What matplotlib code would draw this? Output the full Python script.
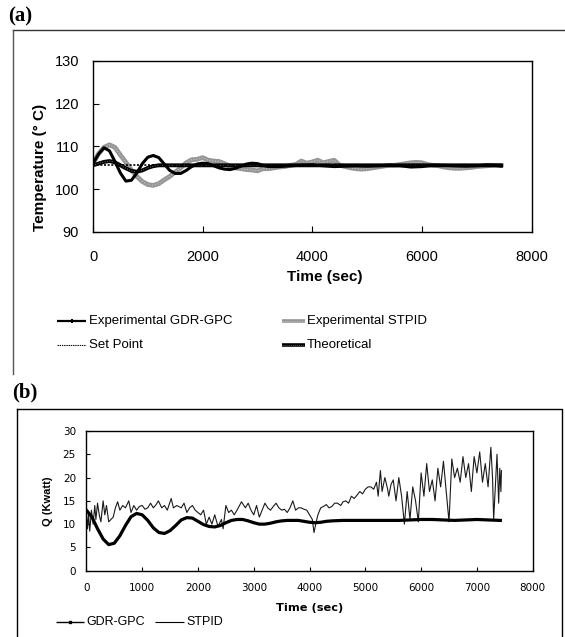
import numpy as np
import matplotlib
matplotlib.use("Agg")
import matplotlib.pyplot as plt
from matplotlib.lines import Line2D

# ---------------- Data: panel (a) temperature ----------------
gpc_t = [0, 100, 200, 300, 400, 500, 600, 700, 800, 900, 1000, 1100, 1200, 1300, 1400,
         1500, 1600, 1700, 1800, 1900, 2000, 2100, 2200, 2300, 2400, 2500, 2600, 2700,
         2800, 2900, 3000, 3100, 3200, 3400, 3600, 3800, 4000, 4200, 4400, 4600, 4800,
         5000, 5200, 5400, 5600, 5800, 6000, 6200, 6400, 6600, 6800, 7000, 7200, 7400, 7450]
gpc_temp = [106.0, 108.2, 109.7, 109.0, 106.5, 103.8, 101.9, 102.1, 103.8, 106.0, 107.5,
            107.9, 107.4, 105.9, 104.4, 103.7, 103.7, 104.4, 105.3, 105.9, 106.1, 106.0,
            105.5, 105.0, 104.7, 104.6, 104.9, 105.4, 105.9, 106.1, 106.0, 105.6, 105.3,
            105.3, 105.5, 105.6, 105.7, 105.5, 105.3, 105.4, 105.5, 105.4, 105.5, 105.6,
            105.5, 105.2, 105.3, 105.6, 105.6, 105.5, 105.4, 105.5, 105.7, 105.5, 105.4]

stpid_t = [0, 100, 200, 300, 400, 500, 600, 700, 800, 900, 1000, 1100, 1200, 1300, 1400,
           1500, 1600, 1700, 1800, 1900, 2000, 2100, 2200, 2300, 2400, 2500, 2600, 2700,
           2800, 2900, 3000, 3100, 3200, 3300, 3400, 3500, 3600, 3700, 3800, 3900, 4000,
           4100, 4200, 4300, 4400, 4500, 4600, 4700, 4800, 4900, 5000, 5100, 5200, 5300,
           5400, 5500, 5600, 5700, 5800, 5900, 6000, 6100, 6200, 6300, 6400, 6500, 6600,
           6700, 6800, 6900, 7000, 7100, 7200, 7300, 7400, 7450]
stpid_temp = [106.0, 108.3, 109.8, 110.4, 109.8, 108.0, 106.3, 104.5, 103.0, 101.8, 101.1,
              100.9, 101.3, 102.2, 103.0, 104.0, 105.0, 106.2, 106.9, 107.0, 107.4, 106.8,
              106.6, 106.5, 106.0, 105.4, 105.0, 104.8, 104.6, 104.5, 104.3, 104.8, 104.8,
              105.0, 105.2, 105.3, 105.6, 105.8, 106.6, 106.1, 106.4, 106.8, 106.2, 106.5,
              106.8, 105.6, 105.3, 105.0, 104.8, 104.7, 104.8, 105.0, 105.2, 105.4, 105.6,
              105.6, 105.8, 106.0, 106.2, 106.3, 106.2, 105.8, 105.6, 105.5, 105.2, 105.0,
              104.9, 104.9, 105.0, 105.1, 105.3, 105.4, 105.5, 105.6, 105.6, 105.5]

setpoint_t = [0, 7450]
setpoint_temp = [105.6, 105.6]

theo_t = [0, 100, 200, 300, 400, 500, 600, 700, 800, 900, 1000, 1100, 1200, 1400, 7450]
theo_temp = [105.6, 106.0, 106.4, 106.6, 106.3, 105.6, 104.9, 104.3, 104.1, 104.4, 105.0,
             105.4, 105.6, 105.6, 105.6]

# ---------------- Data: panel (b) heat duty ----------------
q_gpc_t = [0, 100, 200, 300, 400, 500, 600, 700, 800, 900, 1000, 1100, 1200, 1300, 1400,
           1500, 1600, 1700, 1800, 1900, 2000, 2100, 2200, 2300, 2400, 2500, 2600, 2700,
           2800, 2900, 3000, 3100, 3200, 3300, 3400, 3500, 3600, 3700, 3800, 3900, 4000,
           4100, 4200, 4300, 4400, 4600, 4800, 5000, 5200, 5400, 5600, 5800, 6000, 6200,
           6400, 6600, 6800, 7000, 7200, 7420]
q_gpc = [13.0, 11.5, 9.0, 6.8, 5.6, 5.9, 7.5, 9.7, 11.6, 12.3, 12.0, 10.8, 9.2, 8.2, 8.0,
         8.6, 9.7, 10.9, 11.4, 11.3, 10.6, 9.9, 9.5, 9.4, 9.7, 10.3, 10.8, 11.0, 11.0, 10.7,
         10.3, 10.0, 10.0, 10.2, 10.5, 10.7, 10.8, 10.8, 10.8, 10.6, 10.4, 10.3, 10.4, 10.6,
         10.7, 10.8, 10.8, 10.8, 10.8, 10.8, 10.8, 10.9, 11.0, 11.0, 10.9, 10.8, 10.9, 11.0,
         10.9, 10.8]

q_stpid_t = [0, 20, 40, 60, 90, 120, 150, 170, 200, 230, 260, 300, 330, 360, 400, 480, 520,
             560, 600, 650, 700, 760, 800, 850, 900, 950, 1000, 1050, 1100, 1150, 1200, 1250,
             1290, 1350, 1400, 1450, 1520, 1560, 1620, 1700, 1750, 1800, 1850, 1900, 1950,
             2000, 2050, 2100, 2150, 2200, 2250, 2300, 2360, 2420, 2450, 2500, 2550, 2600,
             2650, 2700, 2780, 2850, 2900, 2950, 3000, 3050, 3100, 3150, 3200, 3250, 3300,
             3350, 3400, 3450, 3500, 3550, 3600, 3650, 3700, 3750, 3800, 3850, 3900, 3950,
             4000, 4050, 4080, 4120, 4150, 4200, 4250, 4300, 4350, 4400, 4450, 4500, 4560,
             4600, 4650, 4700, 4750, 4800, 4850, 4900, 4950, 5000, 5050, 5100, 5150, 5200,
             5230, 5270, 5300, 5350, 5400, 5420, 5460, 5500, 5550, 5600, 5650, 5700, 5750,
             5800, 5850, 5900, 5950, 6000, 6050, 6100, 6150, 6200, 6250, 6300, 6350, 6400,
             6450, 6500, 6550, 6600, 6650, 6700, 6750, 6800, 6850, 6900, 6950, 7000, 7050,
             7100, 7150, 7200, 7250, 7280, 7300, 7330, 7360, 7390, 7410, 7430, 7440]
q_stpid = [13.0, 9.0, 12.0, 8.5, 13.0, 10.0, 14.0, 11.0, 14.5, 12.0, 10.5, 15.0, 12.0, 14.0,
           10.5, 11.5, 13.5, 14.8, 13.0, 14.0, 13.5, 15.0, 12.5, 14.0, 13.0, 13.8, 14.0, 13.2,
           13.5, 14.5, 13.5, 14.2, 15.0, 13.5, 14.0, 13.0, 15.5, 13.5, 14.0, 13.5, 14.5, 12.5,
           13.5, 14.0, 13.0, 12.5, 12.0, 13.0, 10.0, 11.5, 10.0, 12.0, 9.5, 11.0, 9.0, 14.0,
           12.5, 13.0, 12.0, 13.0, 14.8, 13.5, 14.5, 13.0, 12.0, 14.0, 11.5, 13.0, 14.5, 13.5,
           13.0, 13.8, 14.5, 13.5, 13.0, 13.2, 12.5, 13.5, 15.0, 13.0, 13.5, 13.5, 13.2, 13.0,
           12.0, 11.0, 8.2, 10.5, 12.0, 13.5, 13.8, 14.2, 13.5, 13.8, 14.5, 14.5, 14.0, 14.8,
           15.0, 14.5, 16.0, 15.5, 16.2, 17.0, 16.5, 17.5, 18.0, 18.0, 17.5, 19.0, 16.0, 21.5,
           17.0, 20.0, 17.5, 16.0, 18.5, 19.5, 15.0, 20.0, 16.0, 10.0, 17.0, 11.0, 18.0, 15.0,
           10.5, 21.0, 16.0, 23.0, 17.0, 19.5, 15.0, 22.0, 18.0, 23.5, 17.0, 10.5, 24.0, 20.0,
           22.0, 19.0, 24.5, 20.0, 23.0, 17.0, 24.5, 21.0, 25.5, 19.0, 23.0, 18.0, 26.5, 20.0,
           11.0, 18.0, 25.0, 14.5, 22.0, 17.0, 21.5]

a_yticks = [90, 100, 110, 120, 130]
a_xticks = [0, 2000, 4000, 6000, 8000]
b_yticks = [0, 5, 10, 15, 20, 25, 30]
b_xticks = [0, 1000, 2000, 3000, 4000, 5000, 6000, 7000, 8000]

# ---------------- Figure ----------------
W, H = 565, 637
fig = plt.figure(figsize=(W / 100, H / 100), dpi=100)
SANS = ["Liberation Sans", "DejaVu Sans"]
SERIF = ["Liberation Serif", "DejaVu Serif"]


def fx(px):
    return px / W


def fy(py):
    return 1 - py / H


# outer frames
fig.add_artist(Line2D([fx(13.3), 1.0], [fy(29.5), fy(29.5)], transform=fig.transFigure,
                      color="#333333", lw=1.0))
fig.add_artist(Line2D([fx(13.3), fx(13.3)], [fy(29.5), fy(374)], transform=fig.transFigure,
                      color="#555555", lw=1.0))
fig.add_artist(Line2D([fx(17.3), fx(561.7), fx(561.7)], [fy(409), fy(409), -0.01],
                      transform=fig.transFigure, color="black", lw=1.0))
fig.add_artist(Line2D([fx(17.3), fx(17.3)], [fy(409), -0.01], transform=fig.transFigure,
                      color="black", lw=1.0))

fig.text(fx(8), fy(16), "(a)", family=SERIF, fontweight="bold", fontsize=15,
         ha="left", va="center")
fig.text(fx(12), fy(392), "(b)", family=SERIF, fontweight="bold", fontsize=15,
         ha="left", va="center")

# ---------------- Panel (a) ----------------
axa = fig.add_axes([fx(93), fy(232), (531.5 - 93) / W, (232 - 61) / H])
gray = "#959595"
axa.plot(stpid_t, stpid_temp, color=gray, lw=3.4, zorder=2, solid_capstyle="butt")
axa.plot(stpid_t, stpid_temp, color="#c4c4c4", lw=0.8, ls=(0, (1, 1.5)), zorder=2.1)
axa.plot(theo_t, theo_temp, color="black", lw=2.8, zorder=3)
axa.plot(theo_t, theo_temp, color="#777777", lw=0.7, ls=(0, (1, 1.5)), zorder=3.1)
axa.plot(gpc_t, gpc_temp, color="black", lw=2.2, zorder=4)
axa.plot(setpoint_t, setpoint_temp, color="black", lw=1.2, ls=(0, (1.2, 1.0)), zorder=5)

axa.set_xlim(0, 8000)
axa.set_ylim(90, 130)
axa.set_xticks(a_xticks)
axa.set_yticks(a_yticks)
axa.tick_params(direction="in", length=4, width=0.8, labelsize=10.5)
axa.tick_params(axis="y", pad=10)
axa.tick_params(axis="x", pad=13)
for lab in axa.get_xticklabels() + axa.get_yticklabels():
    lab.set_family(SANS)
for s in axa.spines.values():
    s.set_linewidth(1.0)

fig.text(fx(325), fy(277), "Time (sec)", family=SANS, fontweight="bold", fontsize=11,
         ha="center", va="center")
fig.text(fx(39.6), fy(167), "Temperature (° C)", family=SANS, fontweight="bold",
         fontsize=11, ha="center", va="center", rotation=90)

# legend (a) drawn at fixed places
leg_rows = [321, 344.5]


def handle(x0, x1, y, **kw):
    fig.add_artist(Line2D([fx(x0), fx(x1)], [fy(y), fy(y)], transform=fig.transFigure,
                          solid_capstyle="butt", **kw))


handle(57, 86, leg_rows[0], color="black", lw=1.6)
fig.add_artist(Line2D([fx(71.5)], [fy(leg_rows[0])], transform=fig.transFigure,
                      marker="|", markersize=3.5, color="black", mew=1.4))
fig.text(fx(89), fy(leg_rows[0]), "Experimental GDR-GPC", family=SANS, fontsize=9.5,
         ha="left", va="center")
handle(57, 86, leg_rows[1], color="black", lw=0.8, ls=(0, (1.2, 0.8)))
fig.text(fx(89), fy(leg_rows[1]), "Set Point", family=SANS, fontsize=9.5,
         ha="left", va="center")
handle(282, 305, leg_rows[0], color=gray, lw=2.6)
handle(282, 305, leg_rows[0], color="#c4c4c4", lw=0.7, ls=(0, (1, 1.5)))
fig.text(fx(307), fy(leg_rows[0]), "Experimental STPID", family=SANS, fontsize=9.5,
         ha="left", va="center")
handle(282, 305, leg_rows[1], color="black", lw=2.6)
handle(282, 305, leg_rows[1], color="#777777", lw=0.6, ls=(0, (1, 1.5)))
fig.text(fx(307), fy(leg_rows[1]), "Theoretical", family=SANS, fontsize=9.5,
         ha="left", va="center")

# ---------------- Panel (b) ----------------
axb = fig.add_axes([fx(86.4), fy(570.7), (532.7 - 86.4) / W, (570.7 - 431) / H])
axb.plot(q_stpid_t, q_stpid, color="#1a1a1a", lw=0.8, zorder=2)
axb.plot(q_gpc_t, q_gpc, color="black", lw=2.3, zorder=3)
axb.set_xlim(0, 8000)
axb.set_ylim(0, 30)
axb.set_xticks(b_xticks)
axb.set_yticks(b_yticks)
axb.tick_params(direction="in", length=3, width=0.8, labelsize=7.5)
axb.tick_params(axis="y", pad=7.5)
axb.tick_params(axis="x", pad=8.5)
for lab in axb.get_xticklabels() + axb.get_yticklabels():
    lab.set_family(["DejaVu Sans"])
for s in axb.spines.values():
    s.set_linewidth(1.0)

fig.text(fx(310), fy(608), "Time (sec)", family=["DejaVu Sans"], fontweight="bold",
         fontsize=8.2, ha="center", va="center")
fig.text(fx(48), fy(501.7), "Q (Kwatt)", family=SANS, fontweight="bold", fontsize=8,
         ha="center", va="center", rotation=90)

yb = 622
handle(56, 83.5, yb, color="black", lw=1.0)
fig.add_artist(Line2D([fx(69.5)], [fy(yb)], transform=fig.transFigure, marker="s",
                      markersize=1.8, color="black"))
fig.text(fx(86), fy(yb), "GDR-GPC", family=SANS, fontsize=9, ha="left", va="center")
handle(155, 183.5, yb, color="black", lw=0.8)
fig.text(fx(186), fy(yb), "STPID", family=SANS, fontsize=9, ha="left", va="center")

fig.savefig("out.png", dpi=100)
